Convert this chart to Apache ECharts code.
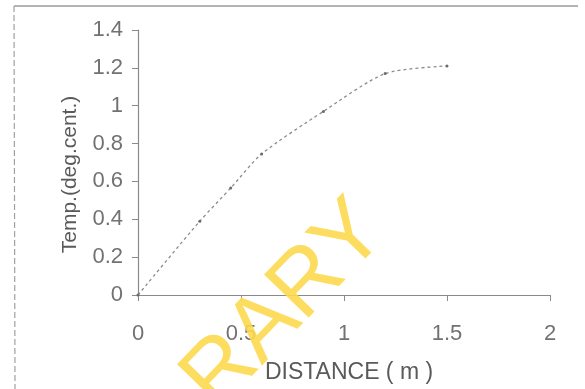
<!DOCTYPE html>
<html>
<head>
<meta charset="utf-8">
<script src="https://cdn.jsdelivr.net/npm/echarts@6/dist/echarts.min.js"></script>
<style>
html,body{margin:0;padding:0;background:#fff;}
#chart{width:585px;height:389px;}
</style>
</head>
<body>
<div id="chart"></div>
<script>
var distance = [0, 0.3, 0.45, 0.6, 0.9, 1.2, 1.5];
var temp = [0, 0.39, 0.565, 0.745, 0.97, 1.17, 1.21];
var xTicks = [0, 0.5, 1, 1.5, 2];
var yTicks = [0, 0.2, 0.4, 0.6, 0.8, 1, 1.2, 1.4];

var chart = echarts.init(document.getElementById('chart'), null, {renderer: 'canvas'});
var pts = distance.map(function (d, i) { return [d, temp[i]]; });
var txt = '#727272';
chart.setOption({
  animation: false,
  backgroundColor: '#ffffff',
  grid: {left: 138, right: 35, top: 30, bottom: 94, containLabel: false},
  xAxis: {
    type: 'value', min: xTicks[0], max: xTicks[xTicks.length - 1], interval: 0.5,
    name: 'DISTANCE ( m )', nameLocation: 'middle', nameGap: 66,
    nameTextStyle: {fontFamily: 'Liberation Sans, sans-serif', fontSize: 23, color: '#5a5a5a', padding: [0, 0, 0, 10]},
    axisLine: {show: true, lineStyle: {color: '#8a8a8a', width: 1.2}},
    axisTick: {show: true, inside: false, length: 6, lineStyle: {color: '#8a8a8a'}},
    axisLabel: {fontFamily: 'Liberation Sans, sans-serif', fontSize: 22, color: txt, margin: 28},
    splitLine: {show: false}
  },
  yAxis: {
    type: 'value', min: yTicks[0], max: yTicks[yTicks.length - 1], interval: 0.2,
    name: 'Temp.(deg.cent.)', nameLocation: 'middle', nameGap: 57,
    nameTextStyle: {fontFamily: 'Liberation Sans, sans-serif', fontSize: 21, color: '#5a5a5a', padding: [0, 24, 0, 0]},
    axisLine: {show: true, lineStyle: {color: '#8a8a8a', width: 1.2}},
    axisTick: {show: true, inside: false, length: 6, lineStyle: {color: '#8a8a8a'}},
    axisLabel: {fontFamily: 'Liberation Sans, sans-serif', fontSize: 22, color: txt, margin: 15},
    splitLine: {show: false}
  },
  series: [{
    type: 'line',
    data: pts,
    smooth: 0.25,
    symbol: 'circle', symbolSize: 3,
    itemStyle: {color: '#6a6a6a'},
    lineStyle: {color: '#8c8c8c', width: 1.3, type: [3, 3]}
  }],
  graphic: [
    {type: 'line', shape: {x1: 14, y1: 6, x2: 578, y2: 6}, style: {stroke: '#9a9a9a', lineWidth: 1.5}},
    {type: 'line', shape: {x1: 14, y1: 6, x2: 15, y2: 389}, style: {stroke: '#a0a0a0', lineWidth: 1.2, lineDash: [6, 3]}},
    {type: 'text', x: 285, y: 306, rotation: 46 * Math.PI / 180,
     style: {text: 'RARY', fill: '#fdd94e', fontFamily: 'Liberation Sans, sans-serif', fontSize: 90,
             align: 'center', verticalAlign: 'middle', opacity: 0.9}, z: 100}
  ]
});
</script>
</body>
</html>
